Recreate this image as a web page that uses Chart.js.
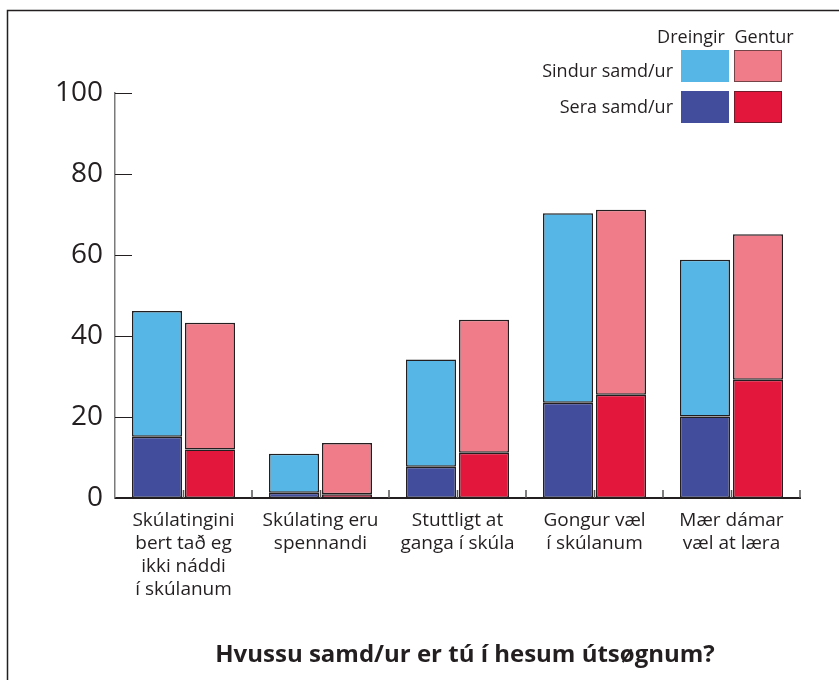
<!DOCTYPE html>
<html>
<head>
<meta charset="utf-8">
<script src="https://cdn.jsdelivr.net/npm/chart.js@4"></script>
<style>
  html, body { margin: 0; padding: 0; background: #fff; }
  #chart { display: block; }
</style>
</head>
<body>
<canvas id="chart" width="839" height="680"></canvas>
<script>
// ===============================
// Data
// ===============================
const categories = [
	["Skúlatingini", "bert tað eg", "ikki náddi", "í skúlanum"],
	["Skúlating eru", "spennandi"],
	["Stuttligt at", "ganga í skúla"],
	["Gongur væl", "í skúlanum"],
	["Mær dámar", "væl at læra"]
];
const yTicks = [0, 20, 40, 60, 80, 100];

// "Sera samd/ur" (bottom) and "Sindur samd/ur" (stacked on top)
const boysSera = [15.1, 1.3, 7.7, 23.5, 20.1];
const boysSindur = [31.1, 9.6, 26.5, 46.8, 38.7];
const girlsSera = [12.0, 0.9, 11.2, 25.5, 29.2];
const girlsSindur = [31.3, 12.7, 32.8, 45.7, 35.9];

const seriesLabels = ["Sera samd/ur", "Sindur samd/ur"];
const groupLabels = ["Dreingir", "Gentur"];
const title = "Hvussu samd/ur er tú í hesum útsøgnum?";

// ===============================
// Styles
// ===============================
const INK = "#231f20";
const FONT = "'Open Sans', 'Noto Sans', sans-serif";
const colors = {
	boysSera: "#424e9b",
	boysSindur: "#56b7e6",
	girlsSera: "#e3173b",
	girlsSindur: "#ef7c88"
};

// ===============================
// Plugins: frame, ticks, legend, title
// ===============================
const decorPlugin = {
	id: "decor",
	beforeDraw(chart) {
		const ctx = chart.ctx;
		ctx.save();
		ctx.strokeStyle = INK;
		ctx.lineWidth = 1.5;
		ctx.beginPath();
		ctx.moveTo(7.5, 700);
		ctx.lineTo(7.5, 10.5);
		ctx.lineTo(900, 10.5);
		ctx.stroke();
		ctx.restore();
	},
	beforeDatasetsDraw(chart) {
		// small upward ticks on the x axis, at category centres and boundaries
		const ctx = chart.ctx;
		const x = chart.scales.x;
		const area = chart.chartArea;
		const half = (x.getPixelForValue(1) - x.getPixelForValue(0)) / 2;
		ctx.save();
		ctx.strokeStyle = "#555";
		ctx.lineWidth = 1.5;
		ctx.beginPath();
		for (let i = 0; i < categories.length; i++) {
			const c = x.getPixelForValue(i);
			[c, c + half].forEach(px => {
				ctx.moveTo(px, area.bottom);
				ctx.lineTo(px, area.bottom - 8);
			});
		}
		ctx.stroke();
		ctx.restore();
	},
	afterDraw(chart) {
		const ctx = chart.ctx;
		const y = chart.scales.y;
		const area = chart.chartArea;

		// inward ticks on the y axis
		ctx.save();
		ctx.strokeStyle = INK;
		ctx.lineWidth = 1.2;
		ctx.beginPath();
		yTicks.forEach(v => {
			const py = Math.round(y.getPixelForValue(v)) + 0.5;
			ctx.moveTo(area.left, py);
			ctx.lineTo(area.left + 17, py);
		});
		ctx.stroke();

		// legend (2 x 2 grid)
		const ds = chart.data.datasets;
		const boxW = 48, boxH = 32;
		const colX = [681, 734];
		const rowY = [50, 91];
		ctx.fillStyle = INK;
		ctx.font = "18px " + FONT;
		ctx.textBaseline = "alphabetic";
		ctx.textAlign = "center";
		ctx.fillText(groupLabels[0], 691, 43);
		ctx.fillText(groupLabels[1], 764, 43);
		ctx.textAlign = "right";
		ctx.fillText(seriesLabels[1], 673, 77);
		ctx.fillText(seriesLabels[0], 673, 113);
		const boxes = [
			[ds[1], 0, 0], [ds[3], 1, 0],
			[ds[0], 0, 1], [ds[2], 1, 1]
		];
		boxes.forEach(([d, c, r]) => {
			ctx.fillStyle = d.backgroundColor;
			ctx.fillRect(colX[c], rowY[r], boxW, boxH);
			if (c === 1) {
				ctx.strokeStyle = "rgba(35,31,32,0.6)";
				ctx.lineWidth = 1;
				ctx.strokeRect(colX[c] + 0.5, rowY[r] + 0.5, boxW - 1, boxH - 1);
			}
		});

		// title
		ctx.fillStyle = INK;
		ctx.font = "bold 24px " + FONT;
		ctx.textAlign = "center";
		ctx.textBaseline = "middle";
		ctx.fillText(title, 465, 655);
		ctx.restore();
	}
};

// ===============================
// Chart
// ===============================
const barStyle = {
	borderColor: INK,
	borderWidth: 1.5,
	borderSkipped: false,
	categoryPercentage: 0.774,
	barPercentage: 0.943
};

new Chart(document.getElementById("chart"), {
	type: "bar",
	data: {
		labels: categories,
		datasets: [
			{ label: seriesLabels[0], data: boysSera, stack: "boys", backgroundColor: colors.boysSera, ...barStyle },
			{ label: seriesLabels[1], data: boysSindur, stack: "boys", backgroundColor: colors.boysSindur, ...barStyle },
			{ label: seriesLabels[0], data: girlsSera, stack: "girls", backgroundColor: colors.girlsSera, ...barStyle },
			{ label: seriesLabels[1], data: girlsSindur, stack: "girls", backgroundColor: colors.girlsSindur, ...barStyle }
		]
	},
	options: {
		responsive: false,
		animation: false,
		layout: { padding: { top: 93, right: 39, left: 0, bottom: 0 } },
		plugins: {
			legend: { display: false },
			tooltip: { enabled: false },
			title: { display: false }
		},
		scales: {
			x: {
				stacked: true,
				grid: { display: false, drawTicks: false },
				border: { display: true, color: INK, width: 2 },
				ticks: {
					color: INK,
					padding: 11,
					maxRotation: 0,
					autoSkip: false,
					font: { family: FONT, size: 19, lineHeight: 1.21 }
				},
				afterFit(scale) { scale.height = 182; }
			},
			y: {
				stacked: true,
				min: 0,
				max: 100,
				afterBuildTicks(scale) { scale.ticks = yTicks.map(v => ({ value: v })); },
				grid: { display: false, drawTicks: false },
				border: { display: true, color: "#7a7a7a", width: 1.5 },
				ticks: {
					color: INK,
					padding: 12,
					font: { family: FONT, size: 28 }
				},
				afterFit(scale) { scale.width = 115; }
			}
		}
	},
	plugins: [decorPlugin]
});
</script>
</body>
</html>
